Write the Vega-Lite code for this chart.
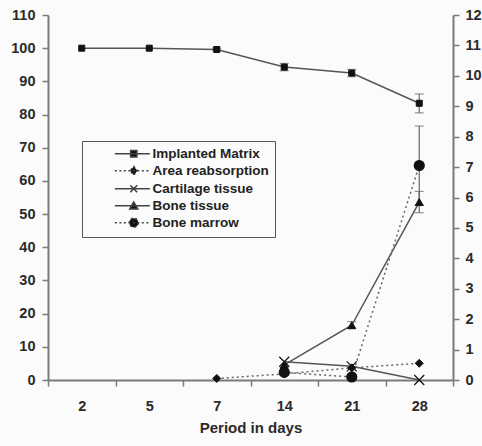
{
  "$schema": "https://vega.github.io/schema/vega-lite/v6.json",
  "width": 405,
  "height": 365,
  "autosize": {"type": "none"},
  "padding": {"left": 48, "top": 15, "right": 29, "bottom": 66},
  "background": "#fbfbfb",
  "config": {
    "view": {"stroke": null},
    "font": "Liberation Sans",
    "axis": {
      "domainColor": "#7a7a7a", "domainWidth": 2, "tickColor": "#7a7a7a", "tickWidth": 1.5,
      "labelFont": "Liberation Sans", "labelFontWeight": "bold", "labelFontSize": 14.5, "labelColor": "#2a2a2a",
      "grid": false, "tickSize": 6, "labelOverlap": false
    },
    "legend": {
      "orient": "none", "legendX": 34, "legendY": 126, "padding": 6,
      "strokeColor": "#555", "fillColor": "#fbfbfb",
      "labelFont": "Liberation Sans", "labelFontWeight": "bold", "labelFontSize": 13.5, "labelColor": "#222",
      "symbolSize": 49, "symbolOffset": 39, "labelOffset": 12, "rowPadding": 2, "labelLimit": 250,
      "symbolOpacity": 1, "symbolStrokeWidth": 1.5
    }
  },
  "data": {
    "values": [
      {"day": 2, "series": "Implanted Matrix", "value": 100},
      {"day": 5, "series": "Implanted Matrix", "value": 100},
      {"day": 7, "series": "Implanted Matrix", "value": 99.6, "lo": 99.2, "hi": 100},
      {"day": 14, "series": "Implanted Matrix", "value": 94.3, "lo": 93.2, "hi": 95.4},
      {"day": 21, "series": "Implanted Matrix", "value": 92.5, "lo": 91.4, "hi": 93.6},
      {"day": 28, "series": "Implanted Matrix", "value": 83.4, "lo": 80.5, "hi": 86.2},
      {"day": 7, "series": "Area reabsorption", "value": 0.05},
      {"day": 14, "series": "Area reabsorption", "value": 0.2},
      {"day": 21, "series": "Area reabsorption", "value": 0.4},
      {"day": 28, "series": "Area reabsorption", "value": 0.55},
      {"day": 14, "series": "Cartilage tissue", "value": 0.6},
      {"day": 21, "series": "Cartilage tissue", "value": 0.45},
      {"day": 28, "series": "Cartilage tissue", "value": 0},
      {"day": 14, "series": "Bone tissue", "value": 0.5},
      {"day": 21, "series": "Bone tissue", "value": 1.8, "lo": 1.7, "hi": 1.92},
      {"day": 28, "series": "Bone tissue", "value": 5.85, "lo": 5.5, "hi": 6.2},
      {"day": 14, "series": "Bone marrow", "value": 0.25},
      {"day": 21, "series": "Bone marrow", "value": 0.1},
      {"day": 28, "series": "Bone marrow", "value": 7.05, "lo": 5.75, "hi": 8.35}
    ]
  },
  "encoding": {
    "x": {
      "field": "day", "type": "ordinal", "bandPosition": 0.5,
      "scale": {"type": "band", "domain": [2, 5, 7, 14, 21, 28], "paddingInner": 0, "paddingOuter": 0},
      "axis": {
        "title": "Period in days", "tickBand": "extent", "labelAngle": 0, "labelPadding": 13,
        "labelFontWeight": "bold", "labelFontSize": 14.5,
        "titleFont": "Liberation Sans", "titleFontWeight": "bold", "titleFontSize": 15, "titleColor": "#2a2a2a", "titlePadding": 8
      }
    }
  },
  "layer": [
    {
      "transform": [{"filter": "datum.series === 'Implanted Matrix'"}],
      "layer": [
        {
          "mark": {"type": "line", "color": "#555", "strokeWidth": 1.5},
          "encoding": {
            "y": {"field": "value", "type": "quantitative", "title": null,
              "scale": {"domain": [0, 110], "nice": false},
              "axis": {"orient": "left", "values": [0,10,20,30,40,50,60,70,80,90,100,110], "labelPadding": 7, "labelFontWeight": "bold", "labelOverlap": false}}
          }
        },
        {
          "transform": [{"filter": "isValid(datum.lo)"}],
          "mark": {"type": "rule", "color": "#666", "strokeWidth": 1.2},
          "encoding": {
            "y": {"field": "lo", "type": "quantitative", "title": null,
              "axis": {"orient": "left", "values": [0,10,20,30,40,50,60,70,80,90,100,110], "labelPadding": 7, "labelFontWeight": "bold", "labelOverlap": false}},
            "y2": {"field": "hi"}
          }
        },
        {
          "transform": [{"filter": "isValid(datum.lo)"}],
          "mark": {"type": "tick", "color": "#666", "thickness": 1.2, "size": 9},
          "encoding": {"y": {"field": "lo", "type": "quantitative", "title": null,
            "axis": {"orient": "left", "values": [0,10,20,30,40,50,60,70,80,90,100,110], "labelPadding": 7, "labelFontWeight": "bold", "labelOverlap": false}}}
        },
        {
          "transform": [{"filter": "isValid(datum.hi)"}],
          "mark": {"type": "tick", "color": "#666", "thickness": 1.2, "size": 9},
          "encoding": {"y": {"field": "hi", "type": "quantitative", "title": null,
            "axis": {"orient": "left", "values": [0,10,20,30,40,50,60,70,80,90,100,110], "labelPadding": 7, "labelFontWeight": "bold", "labelOverlap": false}}}
        },
        {
          "mark": {"type": "point", "filled": true, "color": "#111", "stroke": "#111", "strokeWidth": 1, "opacity": 1, "size": 36, "shape": "square"},
          "encoding": {
            "y": {"field": "value", "type": "quantitative", "title": null,
              "axis": {"orient": "left", "values": [0,10,20,30,40,50,60,70,80,90,100,110], "labelPadding": 7, "labelFontWeight": "bold", "labelOverlap": false}}
          }
        }
      ]
    },
    {
      "transform": [{"filter": "datum.series !== 'Implanted Matrix'"}],
      "layer": [
        {
          "transform": [{"filter": "datum.series === 'Cartilage tissue' || datum.series === 'Bone tissue'"}],
          "mark": {"type": "line", "color": "#555", "strokeWidth": 1.5},
          "encoding": {
            "y": {"field": "value", "type": "quantitative", "title": null,
              "scale": {"domain": [0, 12], "nice": false},
              "axis": {"orient": "right", "values": [0,1,2,3,4,5,6,7,8,9,10,11,12], "labelPadding": 6, "labelFontWeight": "bold", "labelOverlap": false}},
            "detail": {"field": "series", "type": "nominal"}
          }
        },
        {
          "transform": [{"filter": "datum.series === 'Area reabsorption' || datum.series === 'Bone marrow'"}],
          "mark": {"type": "line", "color": "#666", "strokeWidth": 1.5, "strokeDash": [2, 3]},
          "encoding": {
            "y": {"field": "value", "type": "quantitative", "title": null,
              "axis": {"orient": "right", "values": [0,1,2,3,4,5,6,7,8,9,10,11,12], "labelPadding": 6, "labelFontWeight": "bold", "labelOverlap": false}},
            "detail": {"field": "series", "type": "nominal"}
          }
        },
        {
          "transform": [{"filter": "isValid(datum.lo)"}],
          "mark": {"type": "rule", "color": "#666", "strokeWidth": 1.2},
          "encoding": {
            "y": {"field": "lo", "type": "quantitative", "title": null,
              "axis": {"orient": "right", "values": [0,1,2,3,4,5,6,7,8,9,10,11,12], "labelPadding": 6, "labelFontWeight": "bold", "labelOverlap": false}},
            "y2": {"field": "hi"}
          }
        },
        {
          "transform": [{"filter": "isValid(datum.lo)"}],
          "mark": {"type": "tick", "color": "#666", "thickness": 1.2, "size": 9},
          "encoding": {"y": {"field": "lo", "type": "quantitative", "title": null,
            "axis": {"orient": "right", "values": [0,1,2,3,4,5,6,7,8,9,10,11,12], "labelPadding": 6, "labelFontWeight": "bold", "labelOverlap": false}}}
        },
        {
          "transform": [{"filter": "isValid(datum.hi)"}],
          "mark": {"type": "tick", "color": "#666", "thickness": 1.2, "size": 9},
          "encoding": {"y": {"field": "hi", "type": "quantitative", "title": null,
            "axis": {"orient": "right", "values": [0,1,2,3,4,5,6,7,8,9,10,11,12], "labelPadding": 6, "labelFontWeight": "bold", "labelOverlap": false}}}
        },
        {
          "transform": [{"filter": "datum.series === 'Area reabsorption' || datum.series === 'Bone tissue'"}],
          "mark": {"type": "point", "filled": true, "color": "#111", "stroke": "#111", "strokeWidth": 1, "opacity": 1, "size": 64},
          "encoding": {
            "y": {"field": "value", "type": "quantitative", "title": null,
              "axis": {"orient": "right", "values": [0,1,2,3,4,5,6,7,8,9,10,11,12], "labelPadding": 6, "labelFontWeight": "bold", "labelOverlap": false}},
            "shape": {"field": "series", "type": "nominal", "legend": null,
              "scale": {"domain": ["Area reabsorption", "Cartilage tissue", "Bone tissue", "Bone marrow"], "range": ["diamond", "M-1,-1L1,1M1,-1L-1,1", "triangle-up", "circle"]}}
          }
        },
        {
          "transform": [{"filter": "datum.series === 'Cartilage tissue' || datum.series === 'Bone marrow'"}],
          "mark": {"type": "point", "filled": true, "color": "#111", "stroke": "#111", "strokeWidth": 1.2, "opacity": 1, "size": 100},
          "encoding": {
            "y": {"field": "value", "type": "quantitative", "title": null,
              "axis": {"orient": "right", "values": [0,1,2,3,4,5,6,7,8,9,10,11,12], "labelPadding": 6, "labelFontWeight": "bold", "labelOverlap": false}},
            "shape": {"field": "series", "type": "nominal", "legend": null}
          }
        }
      ]
    },
    {
      "transform": [{"filter": "datum.day === 28"}],
      "mark": {"type": "point", "filled": false, "color": "#444", "fill": "#111", "strokeWidth": 1.5, "opacity": 0, "size": 49},
      "encoding": {
        "shape": {"field": "series", "type": "nominal", "title": null,
          "scale": {"domain": ["Implanted Matrix", "Area reabsorption", "Cartilage tissue", "Bone tissue", "Bone marrow"],
            "range": [
              "M-5.4,0H4.6M-0.9,-0.9H0.9V0.9H-0.9Z",
              "M-5.4,0H4.6M0,-1.25L1.05,0L0,1.25L-1.05,0Z",
              "M-5.4,0H4.6M-1,-1L1,1M1,-1L-1,1",
              "M-5.4,0H4.6M0,-1.1L1.15,0.9L-1.15,0.9Z",
              "M-5.4,0H4.6M1.3,0A1.3,1.3,0,1,1,-1.3,0A1.3,1.3,0,1,1,1.3,0Z"
            ]}},
        "strokeDash": {"field": "series", "type": "nominal", "title": null,
          "scale": {"domain": ["Implanted Matrix", "Area reabsorption", "Cartilage tissue", "Bone tissue", "Bone marrow"],
            "range": [[1, 0], [2, 2.5], [1, 0], [1, 0], [2, 2.5]]}}
      }
    }
  ],
  "resolve": {"scale": {"y": "independent", "shape": "independent", "strokeDash": "independent"}}
}
